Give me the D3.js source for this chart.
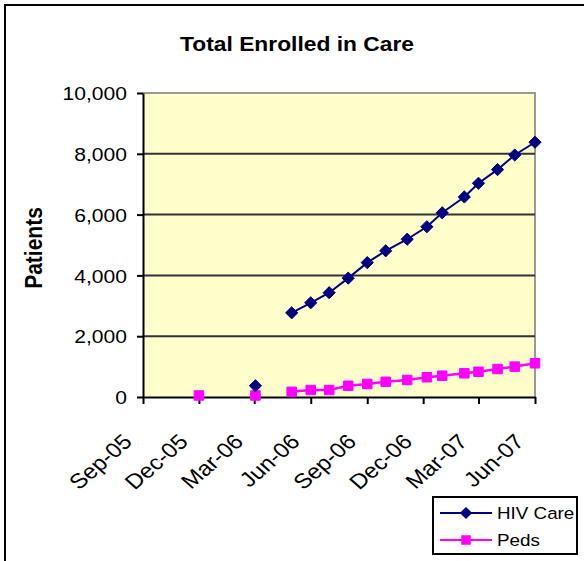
<!DOCTYPE html>
<meta charset="utf-8">
<style>
body { margin: 0; background: #fff; }
text { font-family: "Liberation Sans", Arial, sans-serif; fill: #000; }
.axis text { font-size: 18.5px; }
.axis path, .axis line { stroke: #000; stroke-width: 2px; }
</style>
<svg width="584" height="561"></svg>
<script src="https://d3js.org/d3.v7.min.js"></script>
<script>

// data (null = no value that month)
var dates  = ["2005-12-01","2006-01-01","2006-03-03","2006-04-01","2006-05-01","2006-06-01",
              "2006-07-01","2006-08-01","2006-09-01","2006-10-01","2006-11-05","2006-12-07",
              "2007-01-01","2007-02-06","2007-03-01","2007-04-01","2007-04-29","2007-06-01"];
var hivCare = [null, null, 370, null, 2770, 3100, 3430, 3910, 4420, 4810, 5190, 5600,
               6060, 6580, 7030, 7480, 7960, 8380];
var peds    = [50, null, 50, null, 170, 230, 230, 370, 430, 500, 560, 650,
               700, 780, 830, 920, 1000, 1110];
var xTicks = ["2005-09-01","2005-12-01","2006-03-01","2006-06-01","2006-09-01",
              "2006-12-01","2007-03-01","2007-06-01"];
var yTicks = [0, 2000, 4000, 6000, 8000, 10000];
var seriesNames = ["HIV Care", "Peds"];

var stretch = 1.14; // the original picture is a bit wider than tall

var parseDate = d3.timeParse("%Y-%m-%d");

var svg = d3.select("svg"),
    margin = {top: 93, right: 49, bottom: 164, left: 143},
    width = +svg.attr("width") - margin.left - margin.right,
    height = +svg.attr("height") - margin.top - margin.bottom;

// outer frame: top and left edges only are visible
svg.append("path")
    .attr("d", "M5,561V5H584")
    .attr("fill", "none")
    .attr("stroke", "#000")
    .attr("stroke-width", 2);

svg.append("text")
    .attr("transform", "translate(297,51) scale(" + stretch + ",1)")
    .attr("text-anchor", "middle")
    .style("font-size", "20px")
    .style("font-weight", "bold")
    .text("Total Enrolled in Care");

svg.append("text")
    .attr("transform", "translate(42,248) scale(" + stretch + ",1) rotate(-90)")
    .attr("text-anchor", "middle")
    .style("font-size", "21px")
    .style("font-weight", "bold")
    .text("Patients");

var g = svg.append("g").attr("transform", "translate(" + margin.left + "," + margin.top + ")");

var x = d3.scaleTime()
    .domain([parseDate("2005-09-01"), parseDate("2007-06-01")])
    .range([0, width]);

var y = d3.scaleLinear()
    .domain([0, 10000])
    .range([height, 0]);

// plot area
g.append("rect")
    .attr("width", width)
    .attr("height", height)
    .attr("fill", "#ffffcc");

g.append("path")
    .attr("d", "M0,0H" + width + "V" + height)
    .attr("fill", "none")
    .attr("stroke", "#9a9a9a")
    .attr("stroke-width", 2);

// gridlines
g.append("g")
    .selectAll("line")
    .data(yTicks.filter(function(d) { return d > 0 && d < 10000; }))
    .enter().append("line")
    .attr("x1", 0)
    .attr("x2", width)
    .attr("y1", function(d) { return y(d); })
    .attr("y2", function(d) { return y(d); })
    .attr("stroke", "#333")
    .attr("stroke-width", 2);

// Y axis
var yAxis = g.append("g")
    .attr("class", "axis")
    .call(d3.axisLeft(y).tickValues(yTicks).tickFormat(d3.format(",")).tickSize(6).tickSizeOuter(0));
yAxis.selectAll("text")
    .attr("x", -14)
    .attr("dy", "0.36em")
    .attr("transform", "scale(" + stretch + ",1)");

// X axis, labels slanted
var xAxis = g.append("g")
    .attr("class", "axis")
    .attr("transform", "translate(0," + height + ")")
    .call(d3.axisBottom(x).tickValues(xTicks.map(parseDate)).tickFormat(d3.timeFormat("%b-%y")).tickSize(7).tickSizeOuter(0));
xAxis.selectAll("text")
    .attr("x", 0)
    .attr("y", 0)
    .attr("dy", 0)
    .attr("text-anchor", "end")
    .style("font-size", "21px")
    .attr("transform", "translate(-10,46) scale(" + stretch + ",1) rotate(-45)");

// lines and markers
var table = dates.map(function(d, i) {
  return {date: parseDate(d), hiv: hivCare[i], peds: peds[i]};
});

function lineFor(key) {
  return d3.line()
    .defined(function(d) { return d[key] != null; })
    .x(function(d) { return x(d.date); })
    .y(function(d) { return y(d[key]); });
}

var diamond = d3.symbol().type(d3.symbolDiamond2).size(95);
var square = d3.symbol().type(d3.symbolSquare2).size(115);

g.append("path")
    .datum(table)
    .attr("fill", "none")
    .attr("stroke", "#ff00ff")
    .attr("stroke-width", 2.5)
    .attr("d", lineFor("peds"));

g.append("g").selectAll("path")
    .data(table.filter(function(d) { return d.peds != null; }))
    .enter().append("path")
    .attr("transform", function(d) { return "translate(" + x(d.date) + "," + y(d.peds) + ")"; })
    .attr("d", square)
    .attr("fill", "#ff00ff")
    .attr("stroke", "#ff00ff")
    .attr("stroke-width", 1);

g.append("path")
    .datum(table)
    .attr("fill", "none")
    .attr("stroke", "#000080")
    .attr("stroke-width", 2)
    .attr("d", lineFor("hiv"));

g.append("g").selectAll("path")
    .data(table.filter(function(d) { return d.hiv != null; }))
    .enter().append("path")
    .attr("transform", function(d) { return "translate(" + x(d.date) + "," + y(d.hiv) + ")"; })
    .attr("d", diamond)
    .attr("fill", "#000080")
    .attr("stroke", "#000080")
    .attr("stroke-width", 1);

// legend
var legend = svg.append("g").attr("transform", "translate(433,497)");
legend.append("rect")
    .attr("width", 144)
    .attr("height", 57)
    .attr("fill", "#fff")
    .attr("stroke", "#000")
    .attr("stroke-width", 2);

var colors = ["#000080", "#ff00ff"];
var shapes = [diamond, square];
var item = legend.selectAll(".item")
    .data(seriesNames)
    .enter().append("g")
    .attr("class", "item")
    .attr("transform", function(d, i) { return "translate(0," + (16 + i * 27) + ")"; });

item.append("line")
    .attr("x1", 7)
    .attr("x2", 59)
    .attr("stroke", function(d, i) { return colors[i]; })
    .attr("stroke-width", 2);

item.append("path")
    .attr("transform", "translate(33,0)")
    .attr("d", function(d, i) { return shapes[i](); })
    .attr("fill", function(d, i) { return colors[i]; });

item.append("text")
    .attr("transform", "translate(64,0) scale(" + stretch + ",1)")
    .attr("dy", "0.36em")
    .style("font-size", "16.5px")
    .text(function(d) { return d; });

</script>
